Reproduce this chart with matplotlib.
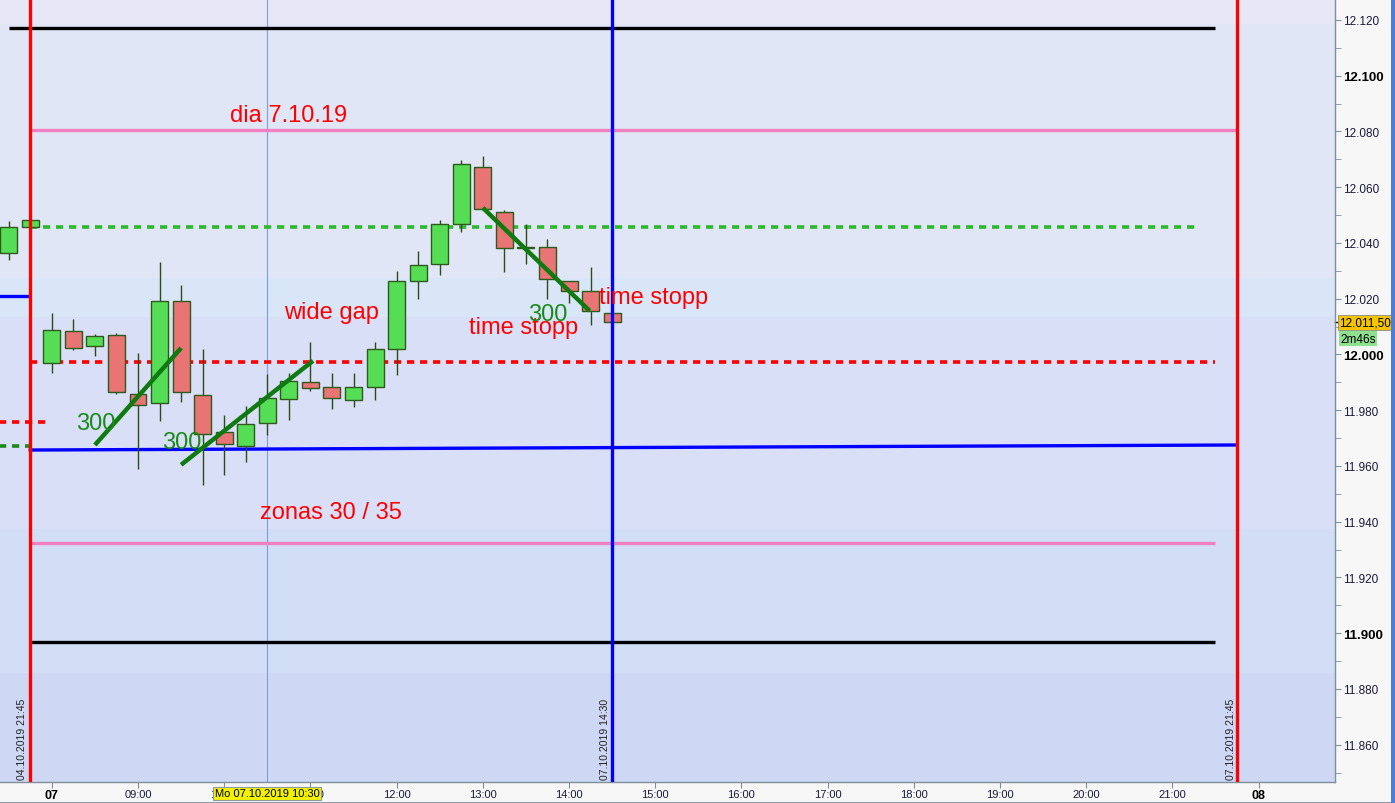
import matplotlib
matplotlib.use("Agg")
import matplotlib.pyplot as plt
import matplotlib.transforms as mtransforms
import numpy as np

plt.rcParams['font.family'] = ['Liberation Sans', 'DejaVu Sans']

# ---------------- data ----------------
# candle times in hours (07.10.2019, previous-day candles mapped before 08:00)
times = [7.50, 7.75, 8.00, 8.25, 8.50, 8.75, 9.00, 9.25, 9.50, 9.75, 10.00, 10.25,
         10.50, 10.75, 11.00, 11.25, 11.50, 11.75, 12.00, 12.25, 12.50, 12.75,
         13.00, 13.25, 13.50, 13.75, 14.00, 14.25, 14.50]
opens = [12036.2, 12045.6, 11997.0, 12008.5, 12003.1, 12007.1, 11985.9, 11982.6,
         12019.0, 11985.5, 11972.2, 11967.0, 11975.4, 11984.1, 11990.0, 11988.4,
         11983.8, 11988.4, 12002.0, 12026.5, 12032.6, 12046.7, 12067.2, 12051.0,
         12038.0, 12038.7, 12026.2, 12022.9, 12015.0]
closes = [12045.6, 12048.1, 12008.9, 12002.4, 12006.7, 11986.6, 11981.9, 12019.0,
          11986.6, 11971.5, 11967.9, 11975.1, 11984.4, 11990.5, 11988.0, 11984.4,
          11988.4, 12002.0, 12026.5, 12031.9, 12046.7, 12068.2, 12052.0, 12038.0,
          12038.7, 12027.2, 12022.6, 12015.7, 12011.5]
highs = [12047.8, 12048.1, 12015.0, 12012.6, 12007.2, 12007.6, 12000.6, 12033.1,
         12024.8, 12001.8, 11978.1, 11981.5, 11992.8, 11993.2, 12004.6, 11993.4,
         11993.2, 12004.6, 12029.9, 12037.0, 12048.2, 12069.8, 12071.2, 12051.7,
         12046.7, 12041.4, 12026.5, 12031.2, 12015.0]
lows = [12033.9, 12045.6, 11993.4, 12001.5, 11999.4, 11985.9, 11958.9, 11976.0,
        11983.0, 11953.2, 11956.8, 11961.3, 11971.0, 11976.4, 11986.8, 11980.5,
        11981.2, 11983.6, 11992.6, 12019.9, 12028.5, 12044.0, 12052.0, 12029.7,
        12032.6, 12020.0, 12018.6, 12010.7, 12011.5]

# horizontal levels: (price, x_start, x_end)
black_top = (12117.2, 7.50, 21.49)
black_bot = (11896.8, 7.75, 21.49)
pink_top = (12080.6, 7.75, 21.75)
pink_bot = (11932.4, 7.75, 21.49)
green_dot = (12045.7, 7.75, 21.26)
green_dot_prev = (11967.2, 7.35, 7.75)
red_dot = (11997.3, 7.75, 21.49)
red_dot_prev = (11975.8, 7.35, 7.96)
blue_prev = (12021.0, 7.35, 7.75)
blue_line_x = [7.75, 21.75]
blue_line_y = [11965.7, 11967.5]

# vertical markers
red_vlines = [7.75, 21.75]
blue_vline = 14.5
cursor_x = 10.5

# trend lines
trend_lines = [([8.50, 9.50], [11967.5, 12002.3]),
               ([9.50, 11.03], [11960.4, 11997.7]),
               ([13.00, 14.24], [12052.6, 12015.6])]

# annotations (x, y, text, color)
notes = [(10.067, 12085.9, "dia 7.10.19", "red"),
         (10.694, 12015.3, "wide gap", "red"),
         (12.840, 12009.9, "time stopp", "red"),
         (14.348, 12020.6, "time stopp", "red"),
         (8.280, 11975.4, "300", "#1a8a1a"),
         (9.278, 11968.6, "300", "#1a8a1a"),
         (13.524, 12014.5, "300", "#1a8a1a"),
         (10.415, 11943.5, "zonas 30 / 35", "red")]

date_marks = [(7.655, "04.10.2019 21:45"), (14.418, "07.10.2019 14:30"),
              (21.680, "07.10.2019 21:45")]

xtick_pos = [8, 9, 10, 11, 12, 13, 14, 15, 16, 17, 18, 19, 20, 21, 22]
xtick_lab = ["07", "09:00", "10:00", "11:00", "12:00", "13:00", "14:00", "15:00",
             "16:00", "17:00", "18:00", "19:00", "20:00", "21:00", "08"]
ytick_major = [11860, 11880, 11900, 11920, 11940, 11960, 11980, 12000, 12020,
               12040, 12060, 12080, 12100, 12120]
ytick_minor = [11850, 11870, 11890, 11910, 11930, 11950, 11970, 11990, 12010,
               12030, 12050, 12070, 12090, 12110]
bold_levels = [11900, 12000, 12100]
last_price = 12011.5
last_label = "12.011,50"
timer_label = "2m46s"
cursor_label = "Mo 07.10.2019 10:30"

# ---------------- figure ----------------
W, H = 1395, 804
fig = plt.figure(figsize=(W / 100, H / 100), dpi=100, facecolor="#f7f7f7")
ax = fig.add_axes([0, 21 / H, 1335 / W, 783 / H])
XMIN, XMAX = 7.399, 22.886
YMIN, YMAX = 11846.6, 12127.5

# background bands
bands = [(12118.5, YMAX, "#e7e7f6"), (12027.3, 12118.5, "#e0e6f6"),
         (12013.3, 12027.3, "#d9e6f7"), (11937.4, 12013.3, "#d9dff6"),
         (11885.7, 11937.4, "#d1def6"), (YMIN, 11885.7, "#ced8f4")]
for lo_, hi_, col in bands:
    ax.axhspan(lo_, hi_, color=col, lw=0, zorder=0)

# horizontal levels
def hline(lv, color, lw, dashes=None, z=2):
    y, x0, x1 = lv
    ln, = ax.plot([x0, x1], [y, y], color=color, lw=lw, zorder=z,
                  solid_capstyle="butt")
    if dashes:
        ln.set_dashes(dashes)

hline(black_top, "black", 2.4)
hline(black_bot, "black", 2.4)
hline(pink_top, "#f080c0", 2.4)
hline(pink_bot, "#f080c0", 2.4)
hline(green_dot, "#2db82d", 2.6, dashes=(2.0, 1.6))
hline(green_dot_prev, "#1a8a1a", 2.6, dashes=(2.0, 1.6))
hline(red_dot, "#ff0000", 2.6, dashes=(2.0, 1.6))
hline(red_dot_prev, "#ff0000", 2.6, dashes=(2.0, 1.6))
hline(blue_prev, "#0000ff", 2.4)
ax.plot(blue_line_x, blue_line_y, color="#0000ff", lw=2.4, zorder=2)

# cursor line
ax.axvline(cursor_x, color="#7b9ce8", lw=0.8, zorder=1.5)

# candles
t = np.array(times)
o = np.array(opens); c = np.array(closes)
hi = np.array(highs); lo = np.array(lows)
up = c >= o
edge = "#2e5a1e"
ax.vlines(t, lo, hi, color="#2e4a1a", lw=1.0, zorder=3)
body_lo = np.minimum(o, c)
body_h = np.maximum(np.abs(c - o), 0.6)
ax.bar(t[up], body_h[up], bottom=body_lo[up], width=0.197, color="#55dd55",
       edgecolor=edge, linewidth=1.0, zorder=4)
ax.bar(t[~up], body_h[~up], bottom=body_lo[~up], width=0.197, color="#e87474",
       edgecolor=edge, linewidth=1.0, zorder=4)

# vertical markers
for xv in red_vlines:
    ax.axvline(xv, color="#ff0000", lw=2.4, zorder=5)
ax.axvline(blue_vline, color="#0000ff", lw=2.4, zorder=5)

# trend lines
for xs, ys in trend_lines:
    ax.plot(xs, ys, color="#0f7a0f", lw=3.2, zorder=6, solid_capstyle="butt")

# notes
for x, y, s, col in notes:
    ax.text(x, y, s, color=col, fontsize=17, ha="left", va="center", zorder=7)

# rotated date marks
for x, s in date_marks:
    ax.text(x, YMIN + 1.0, s, rotation=90, fontsize=7.5, ha="center", va="bottom",
            color="#222222", zorder=7)

# axes styling
for sp in ["left", "top"]:
    ax.spines[sp].set_visible(False)
for sp in ["right", "bottom"]:
    ax.spines[sp].set_color("#7f8f9c")
    ax.spines[sp].set_linewidth(1.0)

ax.yaxis.tick_right()
ax.set_yticks(ytick_major)
ax.set_yticks(ytick_minor, minor=True)
ylabels = [f"{v:,.0f}".replace(",", ".") for v in ytick_major]
ax.set_yticklabels(ylabels, fontsize=8.5, color="#1a1a3a")
for lab, v in zip(ax.get_yticklabels(), ytick_major):
    if v in bold_levels:
        lab.set_fontweight("bold")
        lab.set_fontsize(9.5)
        lab.set_color("black")
ax.tick_params(axis="y", which="both", length=4, color="#7f8f9c", pad=2, direction="out")

ax.set_xticks(xtick_pos)
ax.set_xticklabels(xtick_lab, fontsize=8, color="#1a1a3a")
for lab, s in zip(ax.get_xticklabels(), xtick_lab):
    if ":" not in s:
        lab.set_fontweight("bold")
        lab.set_fontsize(9)
        lab.set_color("black")
ax.tick_params(axis="x", length=4, color="#7f8f9c", pad=1, direction="out")

# limits last (set_ticks may expand them)
ax.set_xlim(XMIN, XMAX)
ax.set_ylim(YMIN, YMAX)

# cursor label on time axis
trans_x = mtransforms.blended_transform_factory(ax.transData, ax.transAxes)
ax.text(cursor_x, -0.0145, cursor_label, transform=trans_x, fontsize=8, ha="center",
        va="center", clip_on=False, zorder=10,
        bbox=dict(boxstyle="square,pad=0.15", fc="#f2f200", ec="#8a9aa0", lw=0.8))

# last price label and timer
trans_y = mtransforms.blended_transform_factory(fig.transFigure, ax.transData)
ax.plot([1335 / W, 1340 / W], [last_price, last_price], transform=trans_y,
        color="black", lw=1, clip_on=False, scalex=False, scaley=False)
ax.text(1339.5 / W, last_price, last_label, transform=trans_y, fontsize=8.5, ha="left",
        va="center", clip_on=False, zorder=10,
        bbox=dict(boxstyle="square,pad=0.12", fc="#f5c400", ec="#8a8a8a", lw=0.6))
ax.text(1340 / W, last_price - 5.9, timer_label, transform=trans_y, fontsize=8.5,
        ha="left", va="center", clip_on=False, zorder=10,
        bbox=dict(boxstyle="square,pad=0.12", fc="#8fe08f", ec="none"))
ax.set_ylim(YMIN, YMAX)

# right window border
fig.add_artist(plt.Rectangle((1390.5 / W, 0), 4.5 / W, 1, transform=fig.transFigure,
                             color="#4a7ddc", lw=0))
fig.add_artist(plt.Rectangle((0, 0), 1390.5 / W, 1.5 / H, transform=fig.transFigure,
                             color="#8a9aa6", lw=0))

fig.savefig("out.png", dpi=100, facecolor=fig.get_facecolor())
